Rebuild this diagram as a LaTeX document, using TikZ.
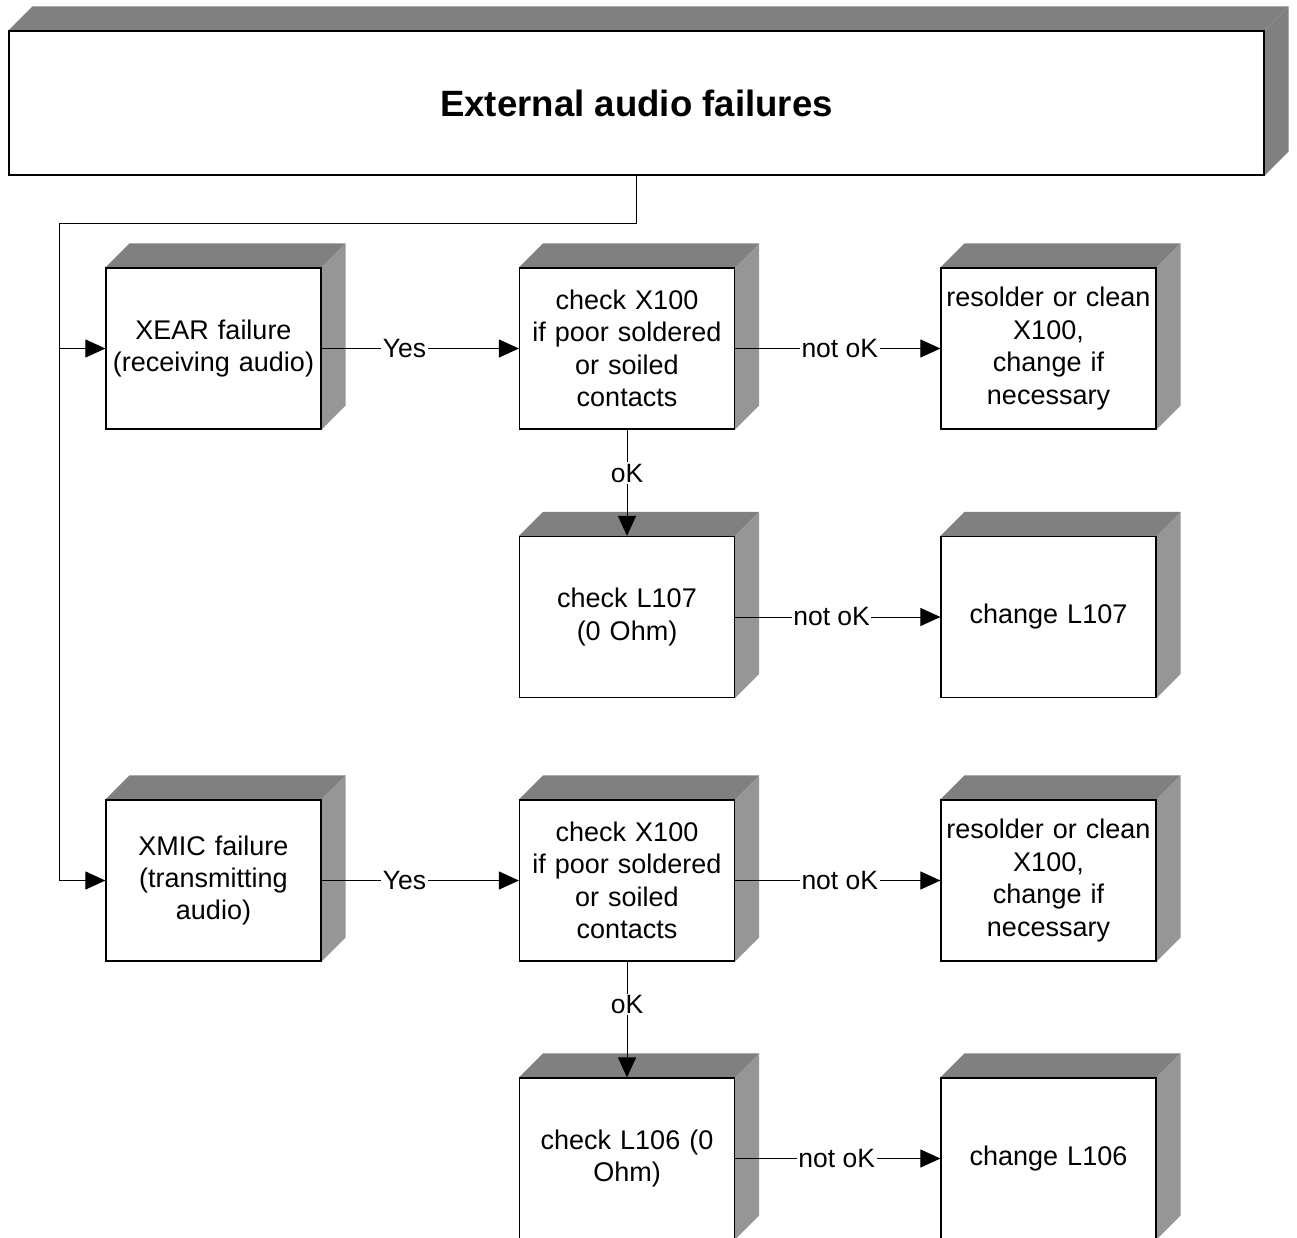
\documentclass[tikz,border=0pt]{standalone}
\usepackage{fontspec}
\setmainfont{Liberation Sans}
\usetikzlibrary{arrows.meta,backgrounds,calc}

\definecolor{topface}{RGB}{128,128,128}
\definecolor{sideface}{RGB}{150,150,150}

\tikzset{
  block/.style={draw=black, line width=1.2pt, fill=white, inner sep=0pt,
    minimum width=215pt, minimum height=161pt, text width=208pt, align=center,
    font=\fontsize{27}{32.4}\selectfont},
  headbox/.style={draw=black, line width=1.2pt, fill=white, inner sep=0pt,
    minimum width=1255pt, minimum height=144pt,
    font=\fontsize{36.6}{44}\selectfont\bfseries},
  link/.style={draw=black, line width=1pt},
  arr/.style={link, -{Triangle[length=20pt,width=18pt]}},
  lbl/.style={fill=white, inner sep=1.5pt, font=\fontsize{26.5}{30}\selectfont}
}

% extruded faces (top and right) behind a block
\newcommand{\extrude}[3]{%
  \begin{scope}[on background layer]
    \fill[#2] (#1.north west) -- ++(24,-24) -- ($(#1.north east)+(24,-24)$) -- (#1.north east) -- cycle;
    \fill[#3] (#1.north east) -- ++(24,-24) -- ($(#1.south east)+(24,-24)$) -- (#1.south east) -- cycle;
  \end{scope}}

\begin{document}
\begin{tikzpicture}[x=1pt, y=-1pt]
\useasboundingbox (0,0) rectangle (1297,1237);
\clip (0,0) rectangle (1297,1237);

% heading
\node[headbox] (title) at (636.5,103) {External audio failures};
\extrude{title}{topface}{topface}

% first branch: receiving audio
\node[block] (xear)  at (213.5,348.5) {XEAR failure\\(receiving audio)};
\node[block] (chk1)  at (627,348.5)   {check X100\\if poor soldered\\or soiled\\contacts};
\node[block] (fix1)  at (1048.5,348.5){resolder or clean\\X100,\\change if\\necessary};
\node[block] (l107)  at (627,617)     {check L107\\(0 Ohm)};
\node[block] (ch107) at (1048.5,617)  {change L107};

% second branch: transmitting audio
\node[block] (xmic)  at (213.5,880.5) {XMIC failure\\(transmitting\\audio)};
\node[block] (chk2)  at (627,880.5)   {check X100\\if poor soldered\\or soiled\\contacts};
\node[block] (fix2)  at (1048.5,880.5){resolder or clean\\X100,\\change if\\necessary};
\node[block] (l106)  at (627,1158.5)  {check L106 (0\\Ohm)};
\node[block] (ch106) at (1048.5,1158.5){change L106};

\foreach \n in {xear,chk1,fix1,l107,ch107,xmic,chk2,fix2,l106,ch106}
  {\extrude{\n}{topface}{sideface}}

% distribution line from the heading
\coordinate (jt) at (636.5,223);
\coordinate (jl) at (59,223);
\draw[link] (title.south) -- (jt) -- (jl) -- (jl |- xmic.west);
\draw[arr] (jl |- xear.west) -- (xear.west);
\draw[arr] (jl |- xmic.west) -- (xmic.west);

% branch connectors
\draw[arr] (xear.east) -- node[lbl, pos=0.42] {Yes} (chk1.west);
\draw[arr] (chk1.east) -- node[lbl, pos=0.51] {not oK} (fix1.west);
\draw[arr] (chk1.south) -- node[lbl, pos=0.41] {oK} (l107.north);
\draw[arr] (l107.east) -- node[lbl, pos=0.47] {not oK} (ch107.west);

\draw[arr] (xmic.east) -- node[lbl, pos=0.42] {Yes} (chk2.west);
\draw[arr] (chk2.east) -- node[lbl, pos=0.51] {not oK} (fix2.west);
\draw[arr] (chk2.south) -- node[lbl, pos=0.37] {oK} (l106.north);
\draw[arr] (l106.east) -- node[lbl, pos=0.495] {not oK} (ch106.west);
\end{tikzpicture}
\end{document}
